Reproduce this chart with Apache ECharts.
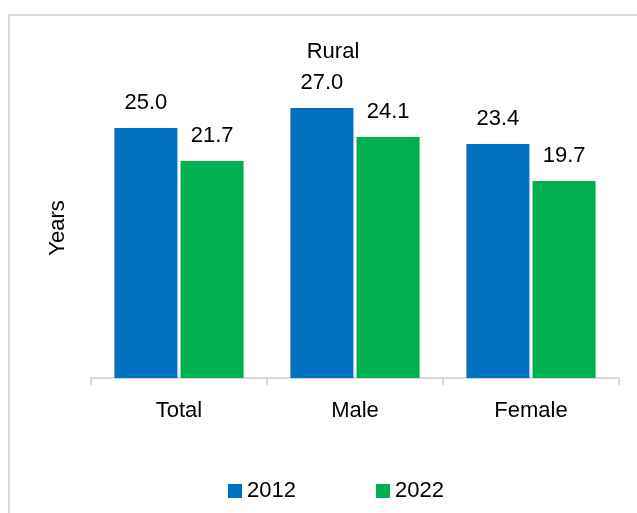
<!DOCTYPE html>
<html><head><meta charset="utf-8">
<script src="https://cdn.jsdelivr.net/npm/echarts@6/dist/echarts.min.js"></script>
<style>html,body{margin:0;padding:0;background:#fff}#c{width:637px;height:513px}</style>
</head><body><div id="c"></div>
<script>
const categories = ['Total', 'Male', 'Female'];
const series2012 = [25.0, 27.0, 23.4];
const series2022 = [21.7, 24.1, 19.7];
const seriesNames = ['2012', '2022'];

const chart = echarts.init(document.getElementById('c'), null, {renderer: 'canvas'});
const font = '"Liberation Sans", Arial, sans-serif';
const fs = 22;
const labelStyle = {show: true, position: 'top', distance: 14, color: '#000', fontSize: fs, fontFamily: font, formatter: p => p.value.toFixed(1)};
chart.setOption({
  animation: false,
  graphic: [{type: 'rect', shape: {x: 9, y: 15, width: 700, height: 600}, style: {fill: 'none', stroke: '#d9d9d9', lineWidth: 2}, z: -1}],
  title: {text: 'Rural', left: 328, top: 36, textAlign: 'center', textStyle: {fontFamily: font, fontSize: fs, fontWeight: 'normal', color: '#000'}},
  grid: {left: 91, right: 18, top: 78, bottom: 135},
  legend: {bottom: 6, left: 223, itemWidth: 14, itemHeight: 14, itemGap: 80, icon: 'rect',
    textStyle: {fontFamily: font, fontSize: fs, color: '#000', padding: [0,0,0,0]}, data: seriesNames},
  xAxis: {type: 'category', data: categories,
    axisLine: {lineStyle: {color: '#d9d9d9', width: 2}},
    axisTick: {show: true, length: 7, lineStyle: {color: '#d9d9d9', width: 2}},
    axisLabel: {fontFamily: font, fontSize: fs, color: '#000', margin: 22}},
  yAxis: {type: 'value', min: 0, max: 30, name: 'Years', nameLocation: 'middle', nameGap: 22, nameRotate: 90,
    nameTextStyle: {fontFamily: font, fontSize: fs, color: '#000'},
    axisLine: {show: false}, axisTick: {show: false}, axisLabel: {show: false}, splitLine: {show: false}},
  series: [
    {name: seriesNames[0], type: 'bar', data: series2012, barWidth: 63, barGap: '5%', itemStyle: {color: '#0070C0'}, label: labelStyle},
    {name: seriesNames[1], type: 'bar', data: series2022, barWidth: 63, itemStyle: {color: '#00B050'}, label: labelStyle}
  ]
});
</script></body></html>
